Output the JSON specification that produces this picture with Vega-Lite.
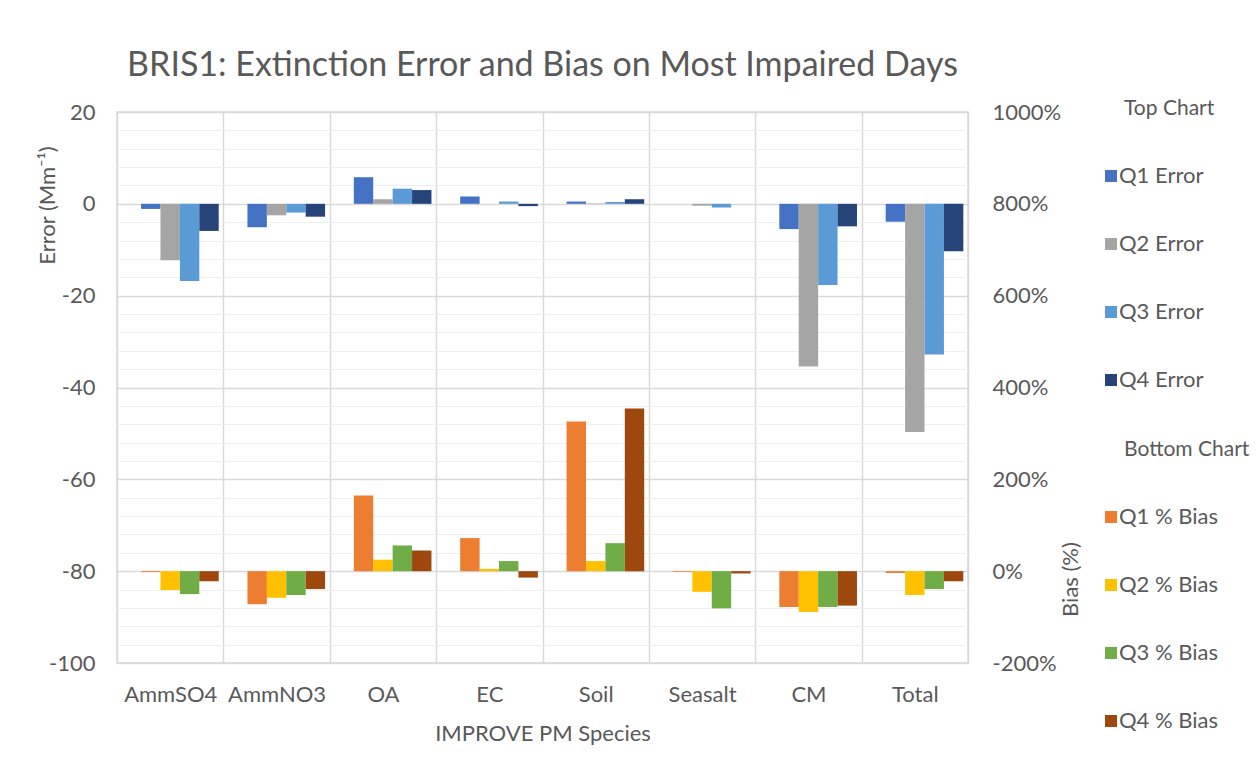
{
  "$schema": "https://vega.github.io/schema/vega-lite/v6.json",
  "width": 851,
  "height": 551,
  "autosize": {"type": "none"},
  "padding": {"left": 117, "top": 112, "right": 291, "bottom": 113},
  "background": "white",
  "title": {
    "text": "BRIS1: Extinction Error and Bias on Most Impaired Days",
    "fontSize": 34,
    "fontWeight": "normal",
    "color": "#595959",
    "font": "Lato",
    "anchor": "middle",
    "offset": 15
  },
  "data": {
    "values": [
      {"species": "AmmSO4", "q": "Q1", "error": -1.1, "bias": -2},
      {"species": "AmmSO4", "q": "Q2", "error": -12.3, "bias": -41},
      {"species": "AmmSO4", "q": "Q3", "error": -16.8, "bias": -50},
      {"species": "AmmSO4", "q": "Q4", "error": -5.9, "bias": -22},
      {"species": "AmmNO3", "q": "Q1", "error": -5.1, "bias": -72},
      {"species": "AmmNO3", "q": "Q2", "error": -2.5, "bias": -58},
      {"species": "AmmNO3", "q": "Q3", "error": -1.9, "bias": -52},
      {"species": "AmmNO3", "q": "Q4", "error": -2.8, "bias": -39},
      {"species": "OA", "q": "Q1", "error": 5.8, "bias": 165},
      {"species": "OA", "q": "Q2", "error": 1.0, "bias": 25},
      {"species": "OA", "q": "Q3", "error": 3.3, "bias": 56},
      {"species": "OA", "q": "Q4", "error": 3.0, "bias": 45},
      {"species": "EC", "q": "Q1", "error": 1.6, "bias": 72},
      {"species": "EC", "q": "Q2", "error": 0.0, "bias": 5},
      {"species": "EC", "q": "Q3", "error": 0.5, "bias": 22},
      {"species": "EC", "q": "Q4", "error": -0.5, "bias": -14},
      {"species": "Soil", "q": "Q1", "error": 0.5, "bias": 326},
      {"species": "Soil", "q": "Q2", "error": 0.1, "bias": 22},
      {"species": "Soil", "q": "Q3", "error": 0.4, "bias": 61},
      {"species": "Soil", "q": "Q4", "error": 1.0, "bias": 354},
      {"species": "Seasalt", "q": "Q1", "error": 0.0, "bias": -1.5},
      {"species": "Seasalt", "q": "Q2", "error": -0.4, "bias": -45},
      {"species": "Seasalt", "q": "Q3", "error": -0.8, "bias": -81},
      {"species": "Seasalt", "q": "Q4", "error": 0.0, "bias": -5},
      {"species": "CM", "q": "Q1", "error": -5.5, "bias": -78},
      {"species": "CM", "q": "Q2", "error": -35.4, "bias": -89},
      {"species": "CM", "q": "Q3", "error": -17.7, "bias": -78},
      {"species": "CM", "q": "Q4", "error": -4.9, "bias": -75},
      {"species": "Total", "q": "Q1", "error": -3.9, "bias": -4},
      {"species": "Total", "q": "Q2", "error": -49.7, "bias": -52},
      {"species": "Total", "q": "Q3", "error": -32.8, "bias": -39},
      {"species": "Total", "q": "Q4", "error": -10.3, "bias": -22}
    ]
  },
  "encoding": {
    "x": {
      "field": "species",
      "type": "nominal",
      "sort": ["AmmSO4", "AmmNO3", "OA", "EC", "Soil", "Seasalt", "CM", "Total"],
      "scale": {"paddingInner": 0, "paddingOuter": 0},
      "axis": {
        "title": "IMPROVE PM Species",
        "labelAngle": 0,
        "grid": true,
        "tickBand": "extent",
        "gridColor": "#d9d9d9",
        "gridWidth": 1.5,
        "ticks": false,
        "domain": false,
        "labelPadding": 21,
        "labelFontSize": 22,
        "labelColor": "#595959",
        "titleFontSize": 22,
        "titleColor": "#595959",
        "titleFontWeight": "normal",
        "titleY": 70,
        "titleBaseline": "middle"
      }
    },
    "xOffset": {
      "field": "q",
      "type": "nominal",
      "scale": {"domain": ["Q0", "Q1", "Q2", "Q3", "Q4"], "paddingInner": 0, "paddingOuter": 0.24}
    }
  },
  "layer": [
    {
      "mark": {"type": "bar"},
      "encoding": {
        "y": {
          "field": "error",
          "type": "quantitative",
          "scale": {"domain": [-100, 20], "nice": false, "zero": false},
          "axis": {
            "orient": "left",
            "title": "Error (Mm⁻¹)",
            "values": [-100, -96, -92, -88, -84, -80, -76, -72, -68, -64, -60, -56, -52, -48, -44, -40, -36, -32, -28, -24, -20, -16, -12, -8, -4, 0, 4, 8, 12, 16, 20],
            "labelExpr": "datum.value % 20 === 0 ? '' + datum.value : ''",
            "labelOverlap": false,
            "grid": true,
            "gridColor": {"condition": {"test": "datum.value % 20 === 0", "value": "#d9d9d9"}, "value": "#efefef"},
            "gridWidth": {"condition": {"test": "datum.value % 20 === 0", "value": 1.5}, "value": 1.2},
            "ticks": false,
            "domain": false,
            "labelPadding": 22,
            "labelFontSize": 22,
            "labelColor": "#595959",
            "titleFontSize": 22,
            "titleColor": "#595959",
            "titleFontWeight": "normal",
            "titleAngle": 270,
            "titleX": -70,
            "titleY": 93,
            "titleAlign": "center",
            "titleBaseline": "middle"
          }
        },
        "color": {
          "field": "q",
          "type": "nominal",
          "scale": {"domain": ["Q1", "Q2", "Q3", "Q4"], "range": ["#4472C4", "#A5A5A5", "#5B9BD5", "#264478"]},
          "legend": {
            "title": "Top Chart",
            "orient": "none",
            "legendX": 1007,
            "legendY": -14,
            "labelExpr": "datum.label + ' Error'"
          }
        }
      }
    },
    {
      "mark": {"type": "bar"},
      "encoding": {
        "y": {
          "field": "bias",
          "type": "quantitative",
          "scale": {"domain": [-200, 1000], "nice": false, "zero": false},
          "axis": {
            "orient": "right",
            "title": "Bias (%)",
            "values": [-200, 0, 200, 400, 600, 800, 1000],
            "labelExpr": "datum.value + '%'",
            "grid": false,
            "ticks": false,
            "domain": false,
            "labelPadding": 24,
            "labelFontSize": 22,
            "labelColor": "#595959",
            "titleFontSize": 22,
            "titleColor": "#595959",
            "titleFontWeight": "normal",
            "titleAngle": 270,
            "titleX": 102,
            "titleY": 467,
            "titleAlign": "center",
            "titleBaseline": "middle"
          }
        },
        "color": {
          "field": "q",
          "type": "nominal",
          "scale": {"domain": ["Q1", "Q2", "Q3", "Q4"], "range": ["#ED7D31", "#FFC000", "#70AD47", "#9E480E"]},
          "legend": {
            "title": "Bottom Chart",
            "orient": "none",
            "legendX": 1007,
            "legendY": 327,
            "labelExpr": "datum.label + ' % Bias'"
          }
        }
      }
    }
  ],
  "resolve": {
    "scale": {"y": "independent", "color": "independent"},
    "axis": {"y": "independent"},
    "legend": {"color": "independent"}
  },
  "config": {
    "font": "Lato",
    "view": {"stroke": "#d9d9d9", "strokeWidth": 1.5},
    "legend": {
      "symbolType": "square",
      "symbolSize": 144,
      "symbolStrokeWidth": 0,
      "symbolOffset": -24,
      "labelOffset": -3,
      "labelFontSize": 22,
      "labelColor": "#595959",
      "titleFontSize": 21,
      "titleFontWeight": "normal",
      "titleColor": "#595959",
      "titlePadding": 46,
      "rowPadding": 46,
      "padding": 0
    }
  }
}
